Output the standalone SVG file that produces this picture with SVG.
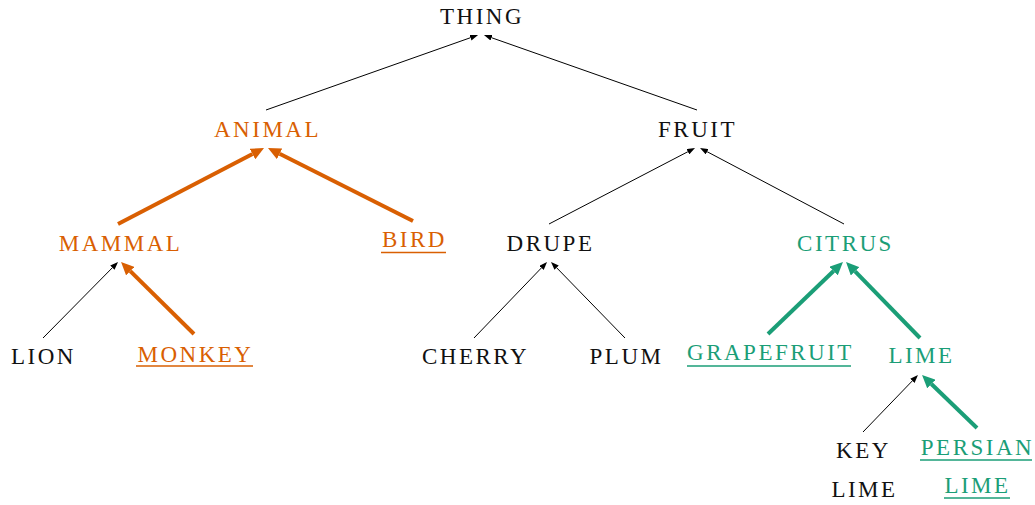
<svg xmlns="http://www.w3.org/2000/svg" width="1035" height="505" viewBox="0 0 1035 505">
  <style>
    text { font-family: "Liberation Serif", "DejaVu Serif", serif; font-size: 23px; letter-spacing: 2.5px; text-anchor: middle; }
    .plain { fill: #111111; }
    .orange { fill: #d95f02; }
    .green { fill: #1b9e77; }
    .ul-orange { stroke: #d95f02; stroke-width: 1.3; }
    .ul-green { stroke: #1b9e77; stroke-width: 1.3; }
    .thin { stroke: #000000; stroke-width: 1; fill: none; marker-end: url(#head-thin); }
    .thick-o { stroke: #d95f02; stroke-width: 4; fill: none; marker-end: url(#head-orange); }
    .thick-g { stroke: #1b9e77; stroke-width: 4; fill: none; marker-end: url(#head-green); }
  </style>
  <defs>
    <marker id="head-thin" markerUnits="userSpaceOnUse" markerWidth="8" markerHeight="6" refX="0" refY="3" orient="auto">
      <path d="M0,0 L8,3 L0,6 z" fill="#000000"/>
    </marker>
    <marker id="head-orange" markerUnits="userSpaceOnUse" markerWidth="13" markerHeight="12" refX="0" refY="6" orient="auto">
      <path d="M0,0 L13,6 L0,12 z" fill="#d95f02"/>
    </marker>
    <marker id="head-green" markerUnits="userSpaceOnUse" markerWidth="13" markerHeight="12" refX="0" refY="6" orient="auto">
      <path d="M0,0 L13,6 L0,12 z" fill="#1b9e77"/>
    </marker>
  </defs>

  <g id="connectors">
    <line class="thin" x1="266" y1="110" x2="470.5" y2="37.7"/>
    <line class="thin" x1="697" y1="110" x2="491.5" y2="37.7"/>
    <line class="thin" x1="43" y1="338" x2="112.4" y2="267.7"/>
    <line class="thin" x1="549" y1="224" x2="687.9" y2="151.7"/>
    <line class="thin" x1="844" y1="224" x2="707.1" y2="151.7"/>
    <line class="thin" x1="474" y1="338" x2="541.5" y2="267.8"/>
    <line class="thin" x1="625" y1="338" x2="556.6" y2="267.7"/>
    <line class="thin" x1="863" y1="432" x2="912.4" y2="380.8"/>
    <line class="thick-o" x1="118" y1="224" x2="252.5" y2="154"/>
    <line class="thick-o" x1="413" y1="221" x2="279.6" y2="153.8"/>
    <line class="thick-o" x1="194" y1="334" x2="130.3" y2="271.1"/>
    <line class="thick-g" x1="768" y1="334" x2="833.6" y2="271"/>
    <line class="thick-g" x1="920" y1="338" x2="855.1" y2="271.3"/>
    <line class="thick-g" x1="977" y1="428" x2="931.4" y2="384"/>
  </g>

  <g id="thing"><text class="plain" x="482" y="23.5">THING</text></g>
  <g id="animal"><text class="orange" x="267.5" y="136.5">ANIMAL</text></g>
  <g id="fruit"><text class="plain" x="697.5" y="136.5">FRUIT</text></g>
  <g id="mammal"><text class="orange" x="120.5" y="250.5">MAMMAL</text></g>
  <g id="bird">
    <text class="orange" x="414.5" y="246.5">BIRD</text>
    <line class="ul-orange" x1="381" y1="252.5" x2="446" y2="252.5"/>
  </g>
  <g id="drupe"><text class="plain" x="550.5" y="250.5">DRUPE</text></g>
  <g id="citrus"><text class="green" x="845.5" y="250.5">CITRUS</text></g>
  <g id="lion"><text class="plain" x="43.5" y="364">LION</text></g>
  <g id="monkey">
    <text class="orange" x="195.5" y="361.5">MONKEY</text>
    <line class="ul-orange" x1="136" y1="366" x2="253" y2="366"/>
  </g>
  <g id="cherry"><text class="plain" x="475.5" y="364">CHERRY</text></g>
  <g id="plum"><text class="plain" x="626.5" y="364">PLUM</text></g>
  <g id="grapefruit">
    <text class="green" x="770.5" y="360">GRAPEFRUIT</text>
    <line class="ul-green" x1="687" y1="366" x2="851" y2="366"/>
  </g>
  <g id="lime"><text class="green" x="921.5" y="363">LIME</text></g>
  <g id="key-lime">
    <text class="plain" x="863.5" y="458">KEY</text>
    <text class="plain" x="864.5" y="497">LIME</text>
  </g>
  <g id="persian-lime">
    <text class="green" x="977.5" y="455">PERSIAN</text>
    <line class="ul-green" x1="920" y1="460" x2="1032" y2="460"/>
    <text class="green" x="977.5" y="493">LIME</text>
    <line class="ul-green" x1="944" y1="498" x2="1010" y2="498"/>
  </g>
</svg>
